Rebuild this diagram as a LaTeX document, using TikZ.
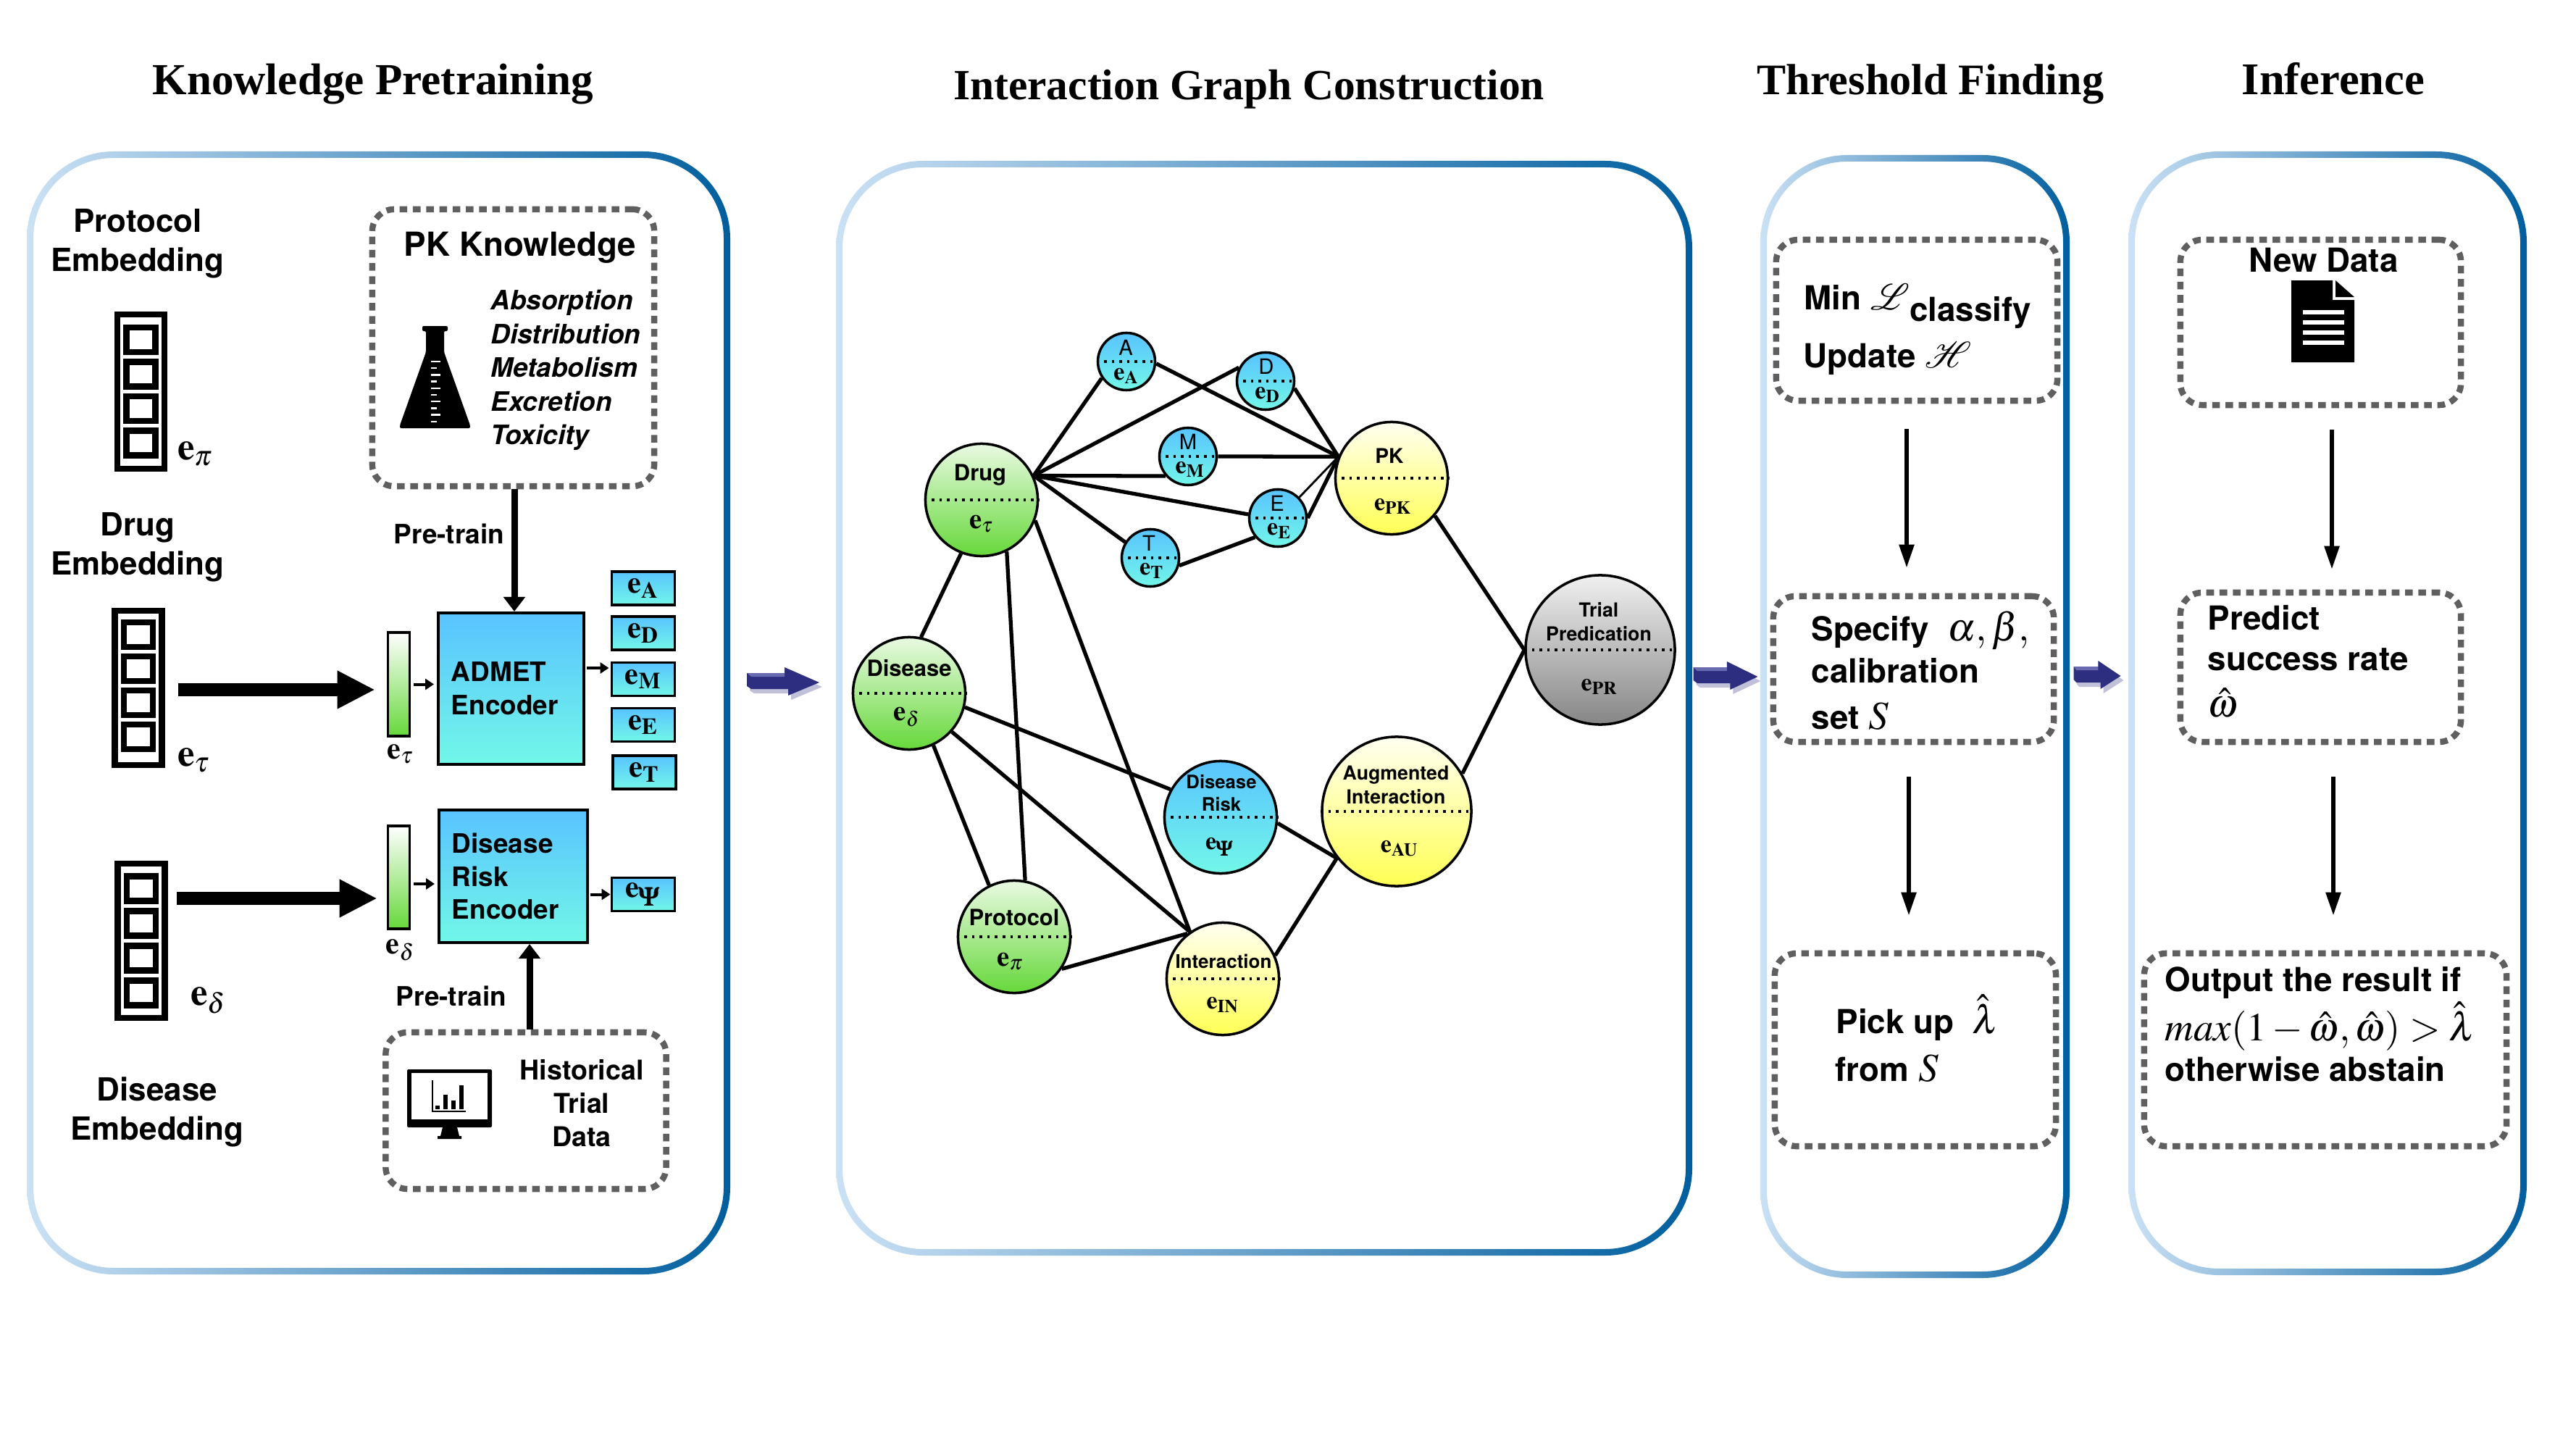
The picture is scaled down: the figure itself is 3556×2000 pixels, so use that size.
\documentclass[tikz,border=0pt]{standalone}
\usepackage{amsmath}
\usepackage{mathptmx}
\usepackage{mathrsfs}
\usepackage[no-math]{fontspec}
\setmainfont{TeX Gyre Heros}
\newfontfamily\titlefont{Liberation Serif}
\usepackage{xcolor}
\definecolor{panelL}{HTML}{CBE1F5}
\definecolor{panelM}{HTML}{1E98D8}
\definecolor{panelR}{HTML}{005E9E}
\definecolor{dashgray}{HTML}{5F5F5F}
\definecolor{cyanT}{HTML}{59C3FF}
\definecolor{cyanB}{HTML}{72F7E8}
\definecolor{greenT}{HTML}{E9FAE2}
\definecolor{greenB}{HTML}{66D83A}
\definecolor{yellowT}{HTML}{FFFFF2}
\definecolor{yellowB}{HTML}{FFFF55}
\definecolor{grayT}{HTML}{F0F0F0}
\definecolor{grayB}{HTML}{868686}
\definecolor{navy}{HTML}{2E2E80}
\definecolor{navyhi}{HTML}{6A6AB0}
\usepackage{tikz}
\usetikzlibrary{positioning,arrows.meta,calc,shadows}
\newcommand{\evec}[1]{$\mathbf{e}_{\mathbf{#1}}$}
\newcommand{\egreek}[1]{$\mathbf{e}_{#1}$}
\newcommand{\epsi}{$\mathbf{e}_{\scalebox{1.15}{$\scriptstyle\pmb{\Psi}$}}$}
\newcommand{\bigmath}[1]{{\fontsize{15.6}{16}\selectfont$#1$}}
% x y xscale
\newcommand{\blockarrow}[3]{%
  \begin{scope}[shift={(#1,#2)},xscale=#3]
    \fill[navy,drop shadow={shadow xshift=0.04cm,shadow yshift=-0.06cm,opacity=0.3,fill=navy}]
      (-50,-13) -- (2,-13) -- (2,-21) -- (50,0) -- (7,18) -- (7,9) -- (-44,9) -- (-50,5) -- cycle;
    \fill[navyhi] (-50,-13) -- (2,-13) -- (2,-8) -- (-44,-8) -- cycle;
  \end{scope}}
\begin{document}
\begin{tikzpicture}[x=0.01cm,y=-0.01cm,
    panel/.style={even odd rule,left color=panelL,middle color=panelM,right color=panelR},
    dashbox/.style={draw=dashgray,line width=2.4pt,dash pattern=on 3pt off 2.2pt,rounded corners=0.3cm,inner sep=0pt},
    headline/.style={anchor=base,font=\titlefont\bfseries\fontsize{16.9}{20}\selectfont},
    sidetext/.style={align=center,inner sep=0pt,font=\bfseries\fontsize{12.5}{15.3}\selectfont},
    steptext/.style={anchor=base west,inner sep=0pt,font=\bfseries\fontsize{13}{16}\selectfont},
    embframe/.style={draw=black,fill=white,line width=2.4pt,minimum width=0.65cm,minimum height=2.13cm,inner sep=0pt},
    embcell/.style={draw=black,fill=white,line width=2.5pt,minimum width=0.4cm,minimum height=0.34cm,inner sep=0pt},
    bigvec/.style={inner sep=0pt,font=\fontsize{15}{18}\selectfont},
    smallvec/.style={inner sep=0pt,font=\fontsize{12}{14}\selectfont},
    barbox/.style={draw=black,line width=1pt,top color=white,bottom color=greenB,minimum width=0.3cm,inner sep=0pt},
    encoder/.style={draw=black,line width=1.1pt,top color=cyanT,bottom color=cyanB,inner sep=0pt,text width=1.65cm,
      align=left,font=\bfseries\fontsize{10.5}{13}\selectfont},
    outbox/.style={draw=black,line width=1.1pt,top color=cyanT,bottom color=cyanB,minimum width=0.87cm,minimum height=0.46cm,
      inner sep=0pt,font=\fontsize{12}{14}\selectfont},
    bigarrow/.style={line width=0.18cm,-{Triangle[length=0.52cm,width=0.49cm]}},
    pretrain/.style={line width=0.09cm,-{Triangle[length=0.2cm,width=0.29cm]}},
    smallarrow/.style={line width=0.04cm,-{Triangle[length=0.12cm,width=0.15cm]}},
    flowarrow/.style={line width=0.055cm,-{Triangle[length=0.32cm,width=0.2cm]}},
    gnode/.style={circle,draw=black,line width=1pt,inner sep=0pt},
    greennode/.style={gnode,minimum size=1.55cm,top color=greenT,bottom color=greenB},
    yellownode/.style={gnode,top color=yellowT,bottom color=yellowB},
    bluenode/.style={gnode,top color=cyanT,bottom color=cyanB},
    gtext/.style={inner sep=0pt,align=center,font=\bfseries\fontsize{8.8}{10}\selectfont},
    gsmall/.style={inner sep=0pt,align=center,font=\bfseries\fontsize{7.6}{9.4}\selectfont},
    letter/.style={inner sep=0pt,font=\fontsize{8.3}{9}\selectfont},
    gvec/.style={inner sep=0pt,font=\fontsize{9.7}{12}\selectfont},
    gedge/.style={line width=1.5pt},
    split/.style={line width=1pt,dotted}]
  \useasboundingbox (0,0) rectangle (3556,2000);
  % headings
  \node[headline, font=\titlefont\bfseries\fontsize{17.4}{20}\selectfont] (headpre) at (515,131) {Knowledge Pretraining};
  \node[headline] (headgraph) at (1724,138) {Interaction Graph Construction};
  \node[headline, font=\titlefont\bfseries\fontsize{17.1}{20}\selectfont] (headthr) at (2665,131) {Threshold Finding};
  \node[headline, font=\titlefont\bfseries\fontsize{17.8}{20}\selectfont] (headinf) at (3221,131) {Inference};
  % panels
  \shade[panel] [rounded corners=1.2cm] (37,209) rectangle (1008,1759) [rounded corners=1.11cm] (46,218) rectangle (999,1750);
  \shade[panel] [rounded corners=1.2cm] (1154,222) rectangle (2336,1733) [rounded corners=1.11cm] (1163,231) rectangle (2327,1724);
  \shade[panel] [rounded corners=1.2cm] (2430,214) rectangle (2857,1764) [rounded corners=1.11cm] (2439,223) rectangle (2848,1755);
  \shade[panel] [rounded corners=1.25cm] (2938,209) rectangle (3488,1760) [rounded corners=1.16cm] (2947,218) rectangle (3479,1751);
  \blockarrow{1081}{942}{1}
  \blockarrow{2382}{934}{0.89}
  \blockarrow{2895}{933}{0.65}

  % embeddings on the left
  \node[sidetext] (protolab) at (190,336) {Protocol\\Embedding};
  \node[sidetext] (druglab) at (190,755) {Drug\\Embedding};
  \node[sidetext] (dislab) at (217,1535) {Disease\\Embedding};
  \node[embframe] (protoemb) at (194.5,540.5) {};
  \node[embframe] (drugemb) at (191,949.5) {};
  \node[embframe] (disemb) at (195,1298.5) {};
  \foreach \i in {0,1,2,3} {
    \node[embcell] (protoemb\i) at (194.5,469+47.5*\i) {};
    \node[embcell] (drugemb\i) at (191,876+47*\i) {};
    \node[embcell] (disemb\i) at (195,1226.5+48*\i) {};
  }
  \node[bigvec] (protovec) at (270,626) {\egreek{\pi}};
  \node[bigvec] (drugvec) at (268,1049) {\egreek{\tau}};
  \node[bigvec] (disvec) at (288,1381) {\egreek{\delta}};

  % PK knowledge box and flask
  \node[dashbox, minimum width=3.89cm, minimum height=3.82cm] (pkbox) at (708.5,480) {};
  \node[inner sep=0pt,font=\bfseries\fontsize{13}{16}\selectfont] (pktitle) at (718,342) {PK Knowledge};
  \node[anchor=west,inner sep=0pt,align=left,font=\bfseries\itshape\fontsize{10.5}{13.2}\selectfont] (pklist) at (677,511)
    {Absorption\\Distribution\\Metabolism\\Excretion\\Toxicity};
  \fill[black,rounded corners=0.02cm] (583,450) -- (618,450) -- (618,457) -- (613,457) -- (613,486)
    -- (649,587) -- (649,591) -- (552,591) -- (552,587) -- (588,486) -- (588,457) -- (583,457) -- cycle;
  \foreach \i in {0,...,9}
    \draw[white,line width=0.025cm] (595,499+9.2*\i) -- (603,499+9.2*\i);
  \foreach \i in {0,2,...,8}
    \draw[white,line width=0.025cm] (603,499+9.2*\i) -- (608,499+9.2*\i);

  % admet branch
  \node[encoder, minimum width=2.01cm, minimum height=2.09cm] (admet) at (705.5,950.5) {ADMET\\Encoder};
  \node[barbox, minimum height=1.43cm] (drugbar) at (550.5,944.5) {};
  \node[smallvec] (drugbarvec) at (553,1041) {\egreek{\tau}};
  \node[outbox] (outa) at (888,812) {\evec{A}};
  \node[outbox] (outd) at (888,874) {\evec{D}};
  \node[outbox] (outm) at (888,937.5) {\evec{M}};
  \node[outbox] (oute) at (888,1000.5) {\evec{E}};
  \node[outbox] (outt) at (889.5,1066) {\evec{T}};
  \node[inner sep=0pt,font=\bfseries\fontsize{10.5}{13}\selectfont] (preone) at (620,737) {Pre-train};
  \coordinate (drugrow) at (0,952);
  \coordinate (admetrow) at (0,922);
  \coordinate (pkdown) at (710,0);
  \draw[bigarrow, shorten <=0.18cm, shorten >=0.16cm] (drugemb.east |- drugrow) -- (drugbar.west |- drugrow);
  \draw[pretrain] (pkbox.south -| pkdown) -- (admet.north -| pkdown);
  \draw[smallarrow, shorten <=0.04cm, shorten >=0.04cm] (drugbar.east) -- (drugbar.east -| admet.west);
  \draw[smallarrow, shorten <=0.02cm, shorten >=0.02cm] (admet.east |- admetrow) -- (outm.west |- admetrow);

  % disease risk branch
  \node[encoder, minimum width=2.05cm, minimum height=1.83cm, text width=1.69cm] (risk) at (708.5,1209.5) {Disease\\Risk\\Encoder};
  \node[barbox, minimum height=1.42cm] (disbar) at (550.5,1211) {};
  \node[smallvec] (disbarvec) at (553,1311) {\egreek{\delta}};
  \node[outbox] (outpsi) at (888,1234.5) {\epsi};
  \node[inner sep=0pt,font=\bfseries\fontsize{10.5}{13}\selectfont] (pretwo) at (623,1375) {Pre-train};
  \node[dashbox, minimum width=3.87cm, minimum height=2.16cm] (histbox) at (726,1533) {};
  \node[inner sep=0pt,align=center,font=\bfseries\fontsize{10.7}{13.1}\selectfont] (histtext) at (803,1523) {Historical\\Trial\\Data};
  \coordinate (disrow) at (0,1240);
  \coordinate (riskrow) at (0,1220);
  \coordinate (histup) at (731,0);
  \draw[bigarrow, shorten <=0.12cm, shorten >=0.13cm] (disemb.east |- disrow) -- (disbar.west |- disrow);
  \draw[pretrain] (histbox.north -| histup) -- (risk.south -| histup);
  \draw[smallarrow, shorten <=0.04cm, shorten >=0.04cm] (disbar.east |- riskrow) -- (risk.west |- riskrow);
  \draw[smallarrow, shorten <=0.02cm] (risk.east |- outpsi) -- (outpsi.west);
  % monitor
  \fill[black,rounded corners=0.02cm] (562,1476) rectangle (679,1556);
  \fill[white] (568,1481) rectangle (673,1545);
  \fill[black] (611,1556) -- (631,1556) -- (634,1568) -- (637,1568) -- (637,1572) -- (604,1572) -- (604,1568) -- (608,1568) -- cycle;
  \draw[black,line width=0.012cm] (597,1491) -- (597,1534) -- (643,1534);
  \foreach \xa/\ya in {601/1526,612/1511,623/1519,634/1498}
    \fill[black] (\xa,\ya) rectangle (\xa+6,1531);

  % interaction graph
  \node[bluenode, minimum size=0.79cm] (ea) at (1555,499) {};
  \node[bluenode, minimum size=0.79cm] (ed) at (1747,526) {};
  \node[bluenode, minimum size=0.79cm] (em) at (1640,630) {};
  \node[bluenode, minimum size=0.79cm] (ee) at (1764,715) {};
  \node[bluenode, minimum size=0.79cm] (et) at (1588,770) {};
  \node[greennode] (drug) at (1355,690) {};
  \node[greennode] (disease) at (1255,957) {};
  \node[greennode] (protocol) at (1400,1293) {};
  \node[yellownode, minimum size=1.55cm] (pk) at (1921,660) {};
  \node[gnode, minimum size=2.06cm, top color=grayT, bottom color=grayB] (trial) at (2209,897) {};
  \node[yellownode, minimum size=2.06cm] (augment) at (1928,1120) {};
  \node[bluenode, minimum size=1.55cm] (diseaserisk) at (1685,1128) {};
  \node[yellownode, minimum size=1.55cm] (interact) at (1688,1351) {};
  \foreach \n in {ea,ed,em,ee,et,drug,disease,protocol,pk,trial,augment,diseaserisk,interact}
    \draw[split] (\n.west) -- (\n.east);

  \node[letter] (lba) at (1554,480) {A};
  \node[gvec] (vea) at (1555,519) {\evec{A}};
  \node[letter] (lbd) at (1748,506) {D};
  \node[gvec] (ved) at (1750,545) {\evec{D}};
  \node[letter] (lbm) at (1640,610) {M};
  \node[gvec] (vem) at (1643,648) {\evec{M}};
  \node[letter] (lbe) at (1763,695) {E};
  \node[gvec] (vee) at (1766,733) {\evec{E}};
  \node[letter] (lbt) at (1586,750) {T};
  \node[gvec] (vet) at (1590,788) {\evec{T}};
  \node[gtext] (lbdrug) at (1353,656) {Drug};
  \node[bigvec, font=\fontsize{11}{14}\selectfont] (vdrug) at (1355,723) {\egreek{\tau}};
  \node[gtext] (lbdis) at (1255,922) {Disease};
  \node[bigvec, font=\fontsize{11}{14}\selectfont] (vdis) at (1252,990) {\egreek{\delta}};
  \node[gtext] (lbpro) at (1400,1266) {Protocol};
  \node[bigvec, font=\fontsize{11}{14}\selectfont] (vpro) at (1395,1327) {\egreek{\pi}};
  \node[gtext, font=\bfseries\fontsize{8}{10}\selectfont] (lbpk) at (1918,629) {PK};
  \node[gvec] (vpk) at (1923,699) {\evec{PK}};
  \node[gsmall] (lbtrial) at (2207,858) {Trial\\Predication};
  \node[gvec] (vtrial) at (2208,948) {\evec{PR}};
  \node[gsmall] (lbaug) at (1927,1083) {Augmented\\Interaction};
  \node[gvec] (vaug) at (1932,1171) {\evec{AU}};
  \node[gsmall, font=\bfseries\fontsize{7.3}{8.8}\selectfont] (lbrisk) at (1686,1095) {Disease\\Risk};
  \node[gvec] (vrisk) at (1684,1169) {\epsi};
  \node[gsmall, font=\bfseries\fontsize{7.4}{9}\selectfont] (lbint) at (1689,1327) {Interaction};
  \node[gvec] (vint) at (1688,1387) {\evec{IN}};

  \draw[gedge] (drug.25) -- (ea.214);
  \draw[gedge] (drug.25) -- (ed.153);
  \draw[gedge] (drug.25) -- (em.221);
  \draw[gedge] (drug.25) -- (ee.173);
  \draw[gedge] (drug.25) -- (et.148);
  \draw[gedge] (et.-15) -- (ee.220);
  \draw[gedge] (ea.-4) -- (pk.158);
  \draw[gedge] (ed.-14) -- (pk.158);
  \draw[gedge] (em.0) -- (pk.158);
  \draw[line width=0.8pt] (ee.44) -- (pk.158);
  \draw[gedge] (ee.0) -- (pk.158);
  \draw[gedge] (pk.-41) -- (trial.180);
  \draw[gedge] (augment.30) -- (trial.180);
  \draw[gedge] (drug.249) -- (disease.78);
  \draw[gedge] (drug.-64) -- (protocol.79);
  \draw[gedge] (drug.-21) -- (interact.125);
  \draw[gedge] (disease.-65) -- (protocol.116);
  \draw[gedge] (disease.-14) -- (diseaserisk.151);
  \draw[gedge] (disease.-42) -- (interact.125);
  \draw[gedge] (protocol.-34) -- (interact.128);
  \draw[gedge] (diseaserisk.-6) -- (augment.218);
  \draw[gedge] (interact.24) -- (augment.218);

  % threshold finding
  \node[dashbox, minimum width=3.88cm, minimum height=2.22cm] (minbox) at (2646,442) {};
  \node[dashbox, minimum width=3.87cm, minimum height=2.01cm] (specbox) at (2641.5,923.5) {};
  \node[dashbox, minimum width=3.88cm, minimum height=2.66cm] (pickbox) at (2644,1449) {};
  \node[steptext] (mintext) at (2490,427) {Min \bigmath{\mathscr{L}}\raisebox{-0.16cm}{classify}};
  \node[steptext] (updtext) at (2489,507) {Update \bigmath{\mathscr{H}}};
  \node[steptext] (spectext) at (2500,884) {Specify~~\bigmath{\alpha,\beta,}};
  \node[steptext] (caltext) at (2500,942) {calibration};
  \node[steptext] (settext) at (2500,1006) {set \bigmath{S}};
  \node[steptext] (picktext) at (2534,1426) {Pick up~~\bigmath{\hat{\lambda}}};
  \node[steptext] (fromtext) at (2533,1492) {from \bigmath{S}};
  \coordinate (throne) at (2632,0);
  \coordinate (thrtwo) at (2635,0);
  \draw[flowarrow, shorten <=0.35cm, shorten >=0.35cm] (minbox.south -| throne) -- (specbox.north -| throne);
  \draw[flowarrow, shorten <=0.44cm, shorten >=0.48cm] (specbox.south -| thrtwo) -- (pickbox.north -| thrtwo);

  % inference
  \node[dashbox, minimum width=3.87cm, minimum height=2.28cm] (newbox) at (3203.5,445) {};
  \node[dashbox, minimum width=3.87cm, minimum height=2.06cm] (predbox) at (3203.5,921) {};
  \node[dashbox, minimum width=5cm, minimum height=2.66cm] (outbox) at (3210,1449) {};
  \node[steptext, anchor=center] (newtext) at (3207.5,359) {New Data};
  \fill[black] (3163,387) -- (3220,387) -- (3220,414) -- (3250,414) -- (3250,500) -- (3163,500) -- cycle;
  \fill[black] (3224,387) -- (3250,410) -- (3224,410) -- cycle;
  \foreach \yy in {431,445,459,473}
    \draw[white,line width=0.055cm] (3179,\yy) -- (3236,\yy);
  \node[steptext] (predtext) at (3047,869) {Predict};
  \node[steptext] (succtext) at (3047,925) {success rate};
  \node[steptext] (omtext) at (3047,989) {\bigmath{\hat{\omega}}};
  \node[steptext] (outtext) at (2988,1368) {Output the result if};
  \node[steptext] (maxtext) at (2988,1436) {\bigmath{\mathit{max}(1-\hat{\omega},\hat{\omega})>\hat{\lambda}}};
  \node[steptext] (abstext) at (2988,1492) {otherwise abstain};
  \coordinate (infone) at (3219,0);
  \coordinate (inftwo) at (3221,0);
  \draw[flowarrow, shorten <=0.3cm, shorten >=0.28cm] (newbox.south -| infone) -- (predbox.north -| infone);
  \draw[flowarrow, shorten <=0.44cm, shorten >=0.48cm] (predbox.south -| inftwo) -- (outbox.north -| inftwo);
\end{tikzpicture}
\end{document}
